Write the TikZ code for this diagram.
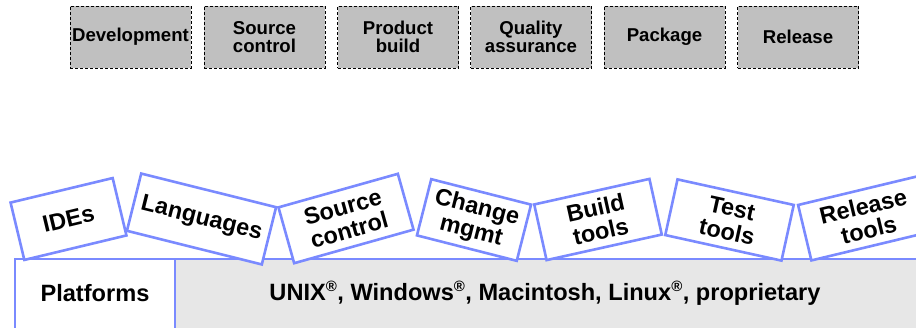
\documentclass[tikz,border=0pt]{standalone}
\usepackage{fontspec}
\setmainfont{Liberation Sans}
\definecolor{bl}{RGB}{122,138,255}
\definecolor{topgray}{RGB}{192,192,192}
\definecolor{bargray}{RGB}{231,231,231}
\begin{document}
\begin{tikzpicture}[x=1pt,y=-1pt,
  topbox/.style={draw=black, dash pattern=on 3pt off 2pt, fill=topgray, line width=0.8pt,
    minimum width=121pt, minimum height=62pt, inner sep=0pt, align=center,
    font=\bfseries\fontsize{18.6}{18.5}\selectfont},
  tool/.style={draw=bl, fill=white, line width=2.6pt, inner sep=0pt, align=center,
    font=\bfseries\fontsize{23.5}{24}\selectfont},
  plattext/.style={inner sep=0pt, font=\bfseries\fontsize{23.6}{25}\selectfont},
  barline/.style={draw=bl, line width=2.5pt}]
\useasboundingbox (0,0) rectangle (916,327);
\clip (0,0) rectangle (916,327);
% top process boxes
\node[topbox] (dev) at (130.5,37) {Development};
\node[topbox] (src) at (264.5,37) {Source\\control};
\node[topbox] (prod) at (398,37) {Product\\build};
\node[topbox] (qa) at (531,37) {Quality\\assurance};
\node[topbox] (pkg) at (664.5,37) {Package};
\node[topbox] (rel) at (798,37) {Release};
% platform bar
\path[barline, fill=white] (15,259) rectangle (175,345);
\path[barline, fill=bargray] (175,259) rectangle (940,345);
\node[plattext] (platforms) at (95,293) {Platforms};
\node[plattext] (oslist) at (545,293) {UNIX\textsuperscript{\fontsize{15}{15}\selectfont ®}, Windows\textsuperscript{\fontsize{15}{15}\selectfont ®}, Macintosh, Linux\textsuperscript{\fontsize{15}{15}\selectfont ®}, proprietary};
% tool boxes
\node[tool, minimum width=105pt, minimum height=59pt, rotate=13.5] (ides) at (68.5,219) {IDEs};
\node[tool, minimum width=139pt, minimum height=59pt, rotate=-14] (lang) at (201.5,219) {Languages};
\node[tool, minimum width=124pt, minimum height=58pt, rotate=15.7] (srcctl) at (346,218.5) {Source\\control};
\node[tool, minimum width=103pt, minimum height=58pt, rotate=-14.3] (chg) at (474,220) {Change\\mgmt};
\node[tool, minimum width=118pt, minimum height=57pt, rotate=12.5] (build) at (598,219.5) {Build\\tools};
\node[tool, minimum width=119pt, minimum height=57pt, rotate=-12.4] (test) at (729.5,220) {Test\\tools};
\node[tool, minimum width=126pt, minimum height=57pt, rotate=13.5] (reltools) at (866,218) {Release\\tools};
\end{tikzpicture}
\end{document}
